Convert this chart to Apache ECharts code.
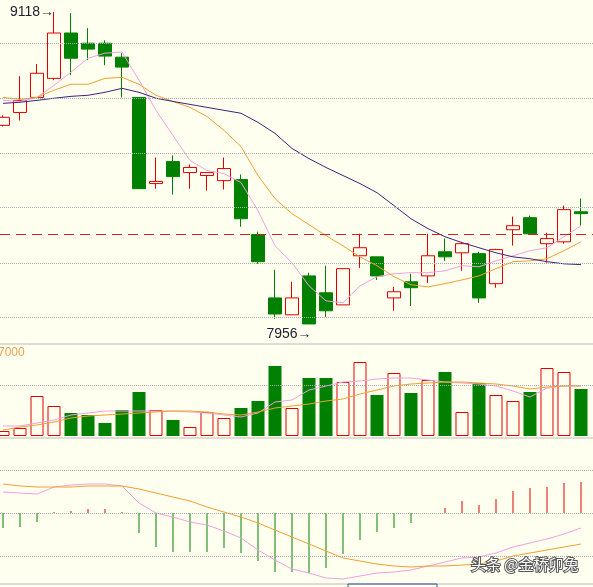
<!DOCTYPE html>
<html><head><meta charset="utf-8">
<script src="https://cdn.jsdelivr.net/npm/echarts@6/dist/echarts.min.js"></script>
<style>html,body{margin:0;padding:0;background:#fffff0}#c{width:593px;height:587px}</style>
</head><body><div id="c"></div>
<script>
// [open, close, low, high]
const candles = [
[8696,8726,8692,8733],[8744,8789,8714,8879],[8800,8890,8800,8924],[8871,9040,8864,9118],
[9040,8946,8883,9114],[9002,8980,8939,9058],[9002,8954,8920,9013],[8950,8913,8800,8965],
[8800,8460,8460,8800],[8479,8487,8460,8576],[8561,8505,8438,8584],[8520,8539,8460,8550],
[8509,8520,8453,8520],[8490,8535,8457,8576],[8494,8348,8318,8513],[8289,8188,8180,8300],
[8053,7993,7975,8158],[7990,8053,7990,8113],[8135,7956,7956,8147],[8072,8005,7982,8173],
[8027,8162,8027,8162],[8210,8240,8165,8292],[8206,8135,8120,8206],[8053,8076,8005,8094],
[8113,8091,8023,8143],[8135,8210,8109,8292],[8225,8206,8191,8274],[8221,8255,8154,8262],
[8218,8053,8035,8225],[8106,8233,8091,8236],[8307,8322,8248,8356],[8352,8292,8289,8360],
[8255,8274,8184,8296],[8262,8382,8255,8397],[8374,8367,8322,8423]];
const ma5 = [8789,8785,8800,8845,8894,8946,8965,8969,8864,8752,8658,8565,8528,8516,8483,8378,8247,8184,8098,8042,8035,8098,8132,8143,8147,8147,8154,8173,8169,8191,8210,8229,8240,8281,8322];
const ma10 = [8800,8793,8800,8827,8849,8849,8871,8875,8849,8808,8785,8763,8729,8677,8617,8509,8423,8367,8326,8285,8247,8206,8173,8132,8102,8094,8106,8120,8135,8162,8188,8191,8199,8229,8262];
const ma30 = [8778,8782,8789,8797,8804,8808,8819,8834,8819,8797,8785,8774,8763,8752,8741,8707,8666,8610,8572,8539,8509,8479,8445,8397,8348,8311,8281,8259,8240,8221,8206,8199,8188,8180,8177];
const priceGrid = [9002,8797,8591,8389,8184,7982];
const refLine = 8292;
const volume = [5,8,40,30,23,21,13,26,44,26,16,9,24,18,28,35,70,28,58,58,54,74,41,63,43,56,64,24,53,41,35,44,68,64,47];
const volMa5 = [10,10,13,16,21,23,25,25,25,25,25,24,23,21,19,23,34,36,46,50,54,55,57,58,58,56,54,53,52,50,45,39,48,50,50];
const volMa10 = [6,9,11,14,18,20,21,22,23,24,25,25,24,22,21,24,28,30,32,35,37,42,46,50,52,53,54,54,53,52,50,47,49,50,50];
const macd = [-15,-14,-9,1,2,4,4,1,-20,-34,-39,-39,-39,-35,-40,-48,-59,-59,-60,-55,-41,-27,-19,-15,-10,0,5,12,8,14,22,25,26,30,31];
const dif = [21,20,19,26,28,29,29,27,10,0,-4,-9,-12,-18,-25,-37,-47,-56,-60,-65,-66,-63,-60,-59,-57,-53,-49,-45,-44,-40,-34,-30,-26,-21,-15];
const dea = [29,27,26,26,26,27,27,27,24,20,16,12,6,1,-4,-10,-17,-24,-31,-38,-45,-48,-51,-53,-54,-53,-53,-52,-51,-48,-43,-40,-37,-34,-31];

const RED = '#e00000', GREEN = '#008000', BG = '#fffff0';
const dot = {type:'dotted', color:'#aaa', width:1};
const chart = echarts.init(document.getElementById('c'));
const XMIN = -0.1765, XMAX = 34.706;
const mkX = g => ({type:'value', gridIndex:g, min:XMIN, max:XMAX, show:false, splitLine:{show:false}});
const mkY = (g,min,max) => ({type:'value', gridIndex:g, min, max, show:false, splitLine:{show:false}});
const idx = arr => arr.map((v,i)=>[i,v]);
const line = (data, color, x, y) => ({type:'line', data:idx(data), xAxisIndex:x, yAxisIndex:y, symbol:'none', lineStyle:{color, width:1}, silent:true});
const lbl = {show:true, color:'#223', fontSize:14, fontFamily:'Liberation Sans'};

chart.setOption({
  backgroundColor: BG,
  animation:false,
  grid:[
    {left:0, width:593, top:0, height:343},
    {left:0, width:593, top:345, height:91},
    {left:0, width:593, top:437, height:146}
  ],
  xAxis:[mkX(0), mkX(1), mkX(2)],
  yAxis:[mkY(0,7885,9163), mkY(1,0,91), mkY(2,-70,76)],
  series:[
    {type:'candlestick', data:candles.map((c,i)=>[i,...c]), encode:{x:0,y:[1,2,3,4]}, xAxisIndex:0, yAxisIndex:0, barWidth:13,
     itemStyle:{color:BG, color0:GREEN, borderColor:RED, borderColor0:GREEN, borderWidth:1},
     markLine:{symbol:'none', silent:true, label:{show:false},
       data:[...priceGrid.map(v=>({yAxis:v, lineStyle:dot})),
             {yAxis:refLine, lineStyle:{type:[10,6], color:'#cc2222', width:1}}]},
     markPoint:{symbol:'circle', symbolSize:0, silent:true,
       data:[{coord:[3,9118], label:{...lbl, formatter:'9118\u2192', position:'left', distance:0}},
             {coord:[18,7956], label:{...lbl, formatter:'7956\u2192', position:'bottom', distance:3, offset:[-20,0]}}]}
    },
    line(ma5,'#f0a0e0',0,0), line(ma10,'#f0a030',0,0), line(ma30,'#402080',0,0),
    {type:'bar', xAxisIndex:1, yAxisIndex:1, barWidth:13,
     data: volume.map((v,i)=>({value:[i,v], itemStyle: candles[i][1]>=candles[i][0] ? {color:BG, borderColor:RED, borderWidth:1} : {color:GREEN}})),
     markLine:{symbol:'none', silent:true, label:{show:false}, data:[{yAxis:51, lineStyle:dot}]}},
    line(volMa5,'#f0a0e0',1,1), line(volMa10,'#f0a030',1,1),
    {type:'bar', xAxisIndex:2, yAxisIndex:2, barWidth:1,
     data: macd.map((v,i)=>({value:[i,v], itemStyle:{color: v>=0?RED:GREEN}})),
     markLine:{symbol:'none', silent:true, label:{show:false}, data:[{yAxis:0,lineStyle:dot},{yAxis:43,lineStyle:dot},{yAxis:-43,lineStyle:dot}]}},
    line(dif,'#f0a0e0',2,2), line(dea,'#f0a030',2,2)
  ],
  graphic:[
    {type:'line', shape:{x1:0,y1:344,x2:593,y2:344}, style:{stroke:'#bbb', lineWidth:1}},
    {type:'line', shape:{x1:0,y1:438,x2:593,y2:438}, style:{stroke:'#bbb', lineWidth:1}},
    {type:'line', shape:{x1:0,y1:584,x2:593,y2:584}, style:{stroke:'#bbb', lineWidth:1}},
    {type:'rect', shape:{x:348,y:584,width:89,height:6}, style:{fill:'none', stroke:'#3050a0', lineWidth:1}},
    {type:'text', left:-2, top:347, style:{text:'7000', fill:'#f0a050', font:'12px Liberation Sans'}},
    {type:'text', left:470, top:556, style:{text:'头条 @金桥卯兔', fill:'#fff', font:'15px "Noto Sans CJK SC"', stroke:'#555', lineWidth:2}, z:100}
  ]
});
</script></body></html>
